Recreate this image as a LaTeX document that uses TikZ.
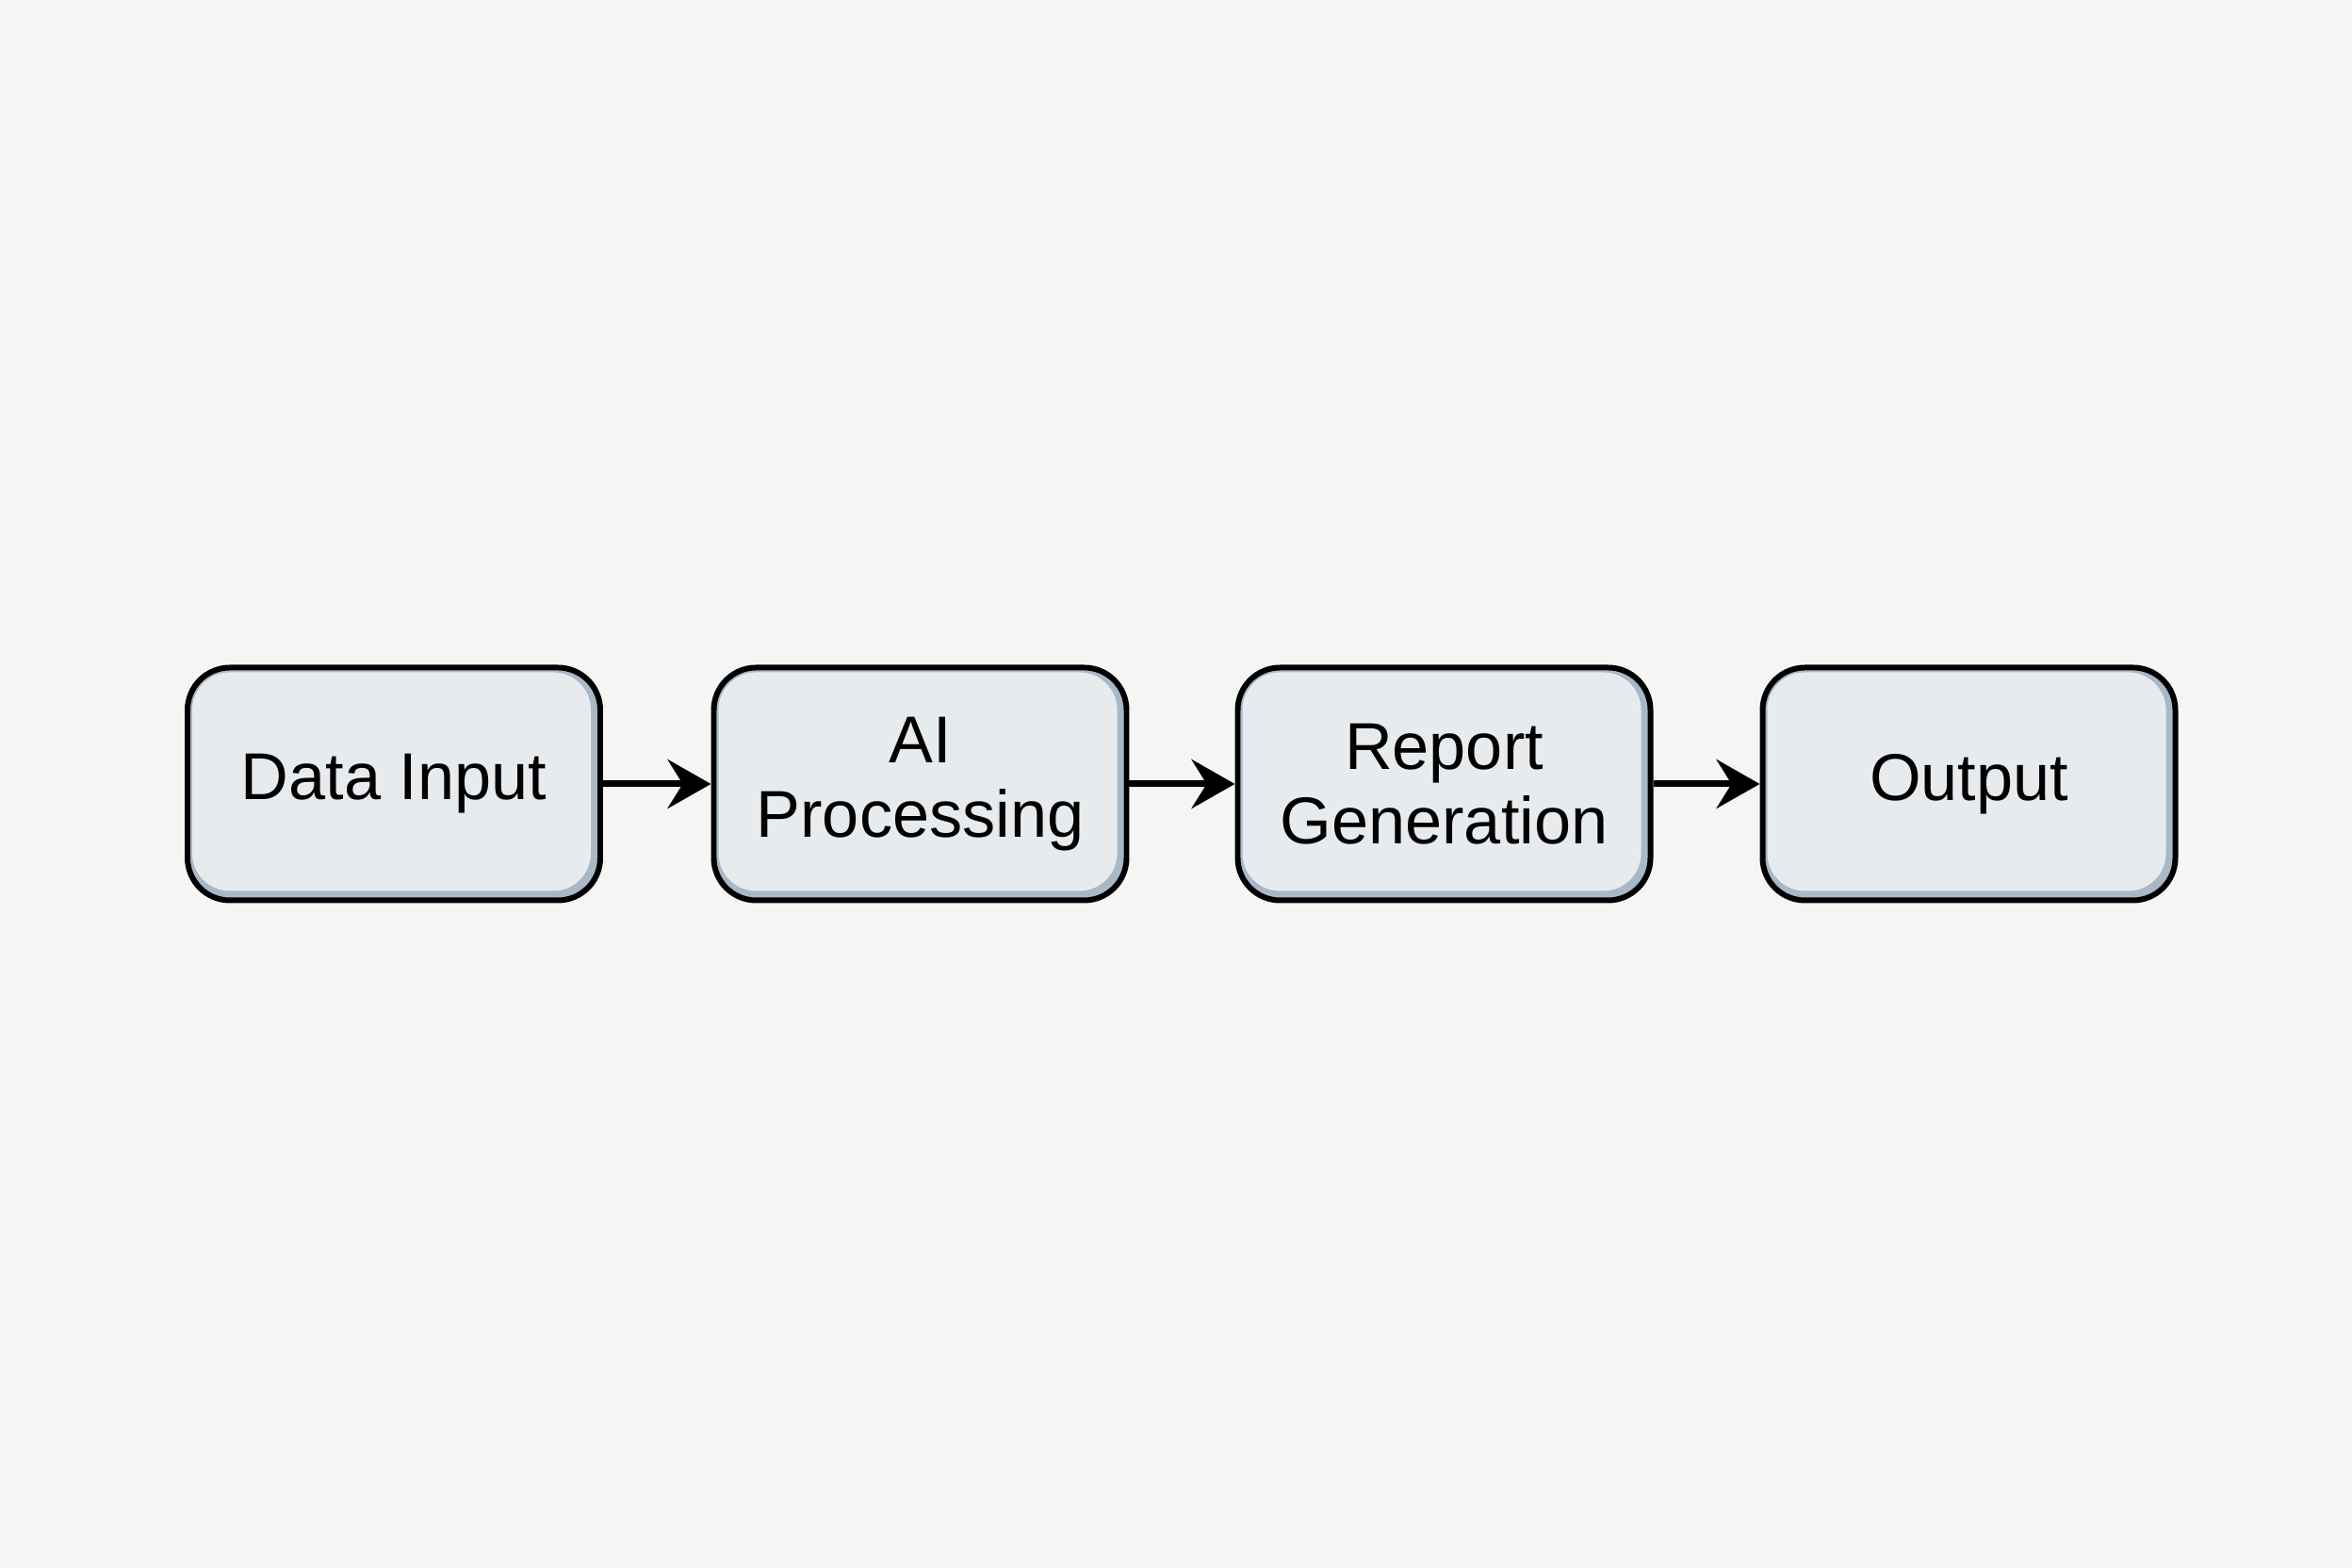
\documentclass[tikz,border=0pt]{standalone}
\usepackage{fontspec}
\setmainfont{Liberation Sans}
\usetikzlibrary{arrows.meta}
\definecolor{bg}{HTML}{F5F5F3}
\definecolor{boxfill}{HTML}{E8EBEE}
\definecolor{bevel}{HTML}{A9B8C6}
\tikzset{
  stage/.style={draw=black, line width=1.7pt, rounded corners=0.45cm,
    minimum width=4.38cm, minimum height=2.47cm, fill=bevel, align=center,
    font=\fontsize{20}{22.5}\selectfont, text=black,
    path picture={
      \fill[boxfill, rounded corners=0.4cm]
        ([shift={(0.05cm,-0.05cm)}]path picture bounding box.north west) rectangle
        ([shift={(-0.10cm,0.10cm)}]path picture bounding box.south east);
    }},
  flow/.style={line width=2pt, -{Stealth[length=0.46cm, width=0.52cm, inset=0.16cm]}}
}
\begin{document}
\begin{tikzpicture}
  \fill[bg] (0,0) rectangle (24.96,16.64);
  \useasboundingbox (0,0) rectangle (24.96,16.64);
  \node[stage] (a) at (4.18,8.32) {Data Input};
  \node[stage] (b) at (9.765,8.32) {AI\\Processing};
  \node[stage] (c) at (15.325,8.32) {Report\\Generation};
  \node[stage] (d) at (20.895,8.32) {Output};
  \draw[flow] (a.east) -- (b.west);
  \draw[flow] (b.east) -- (c.west);
  \draw[flow] (c.east) -- (d.west);
\end{tikzpicture}
\end{document}
